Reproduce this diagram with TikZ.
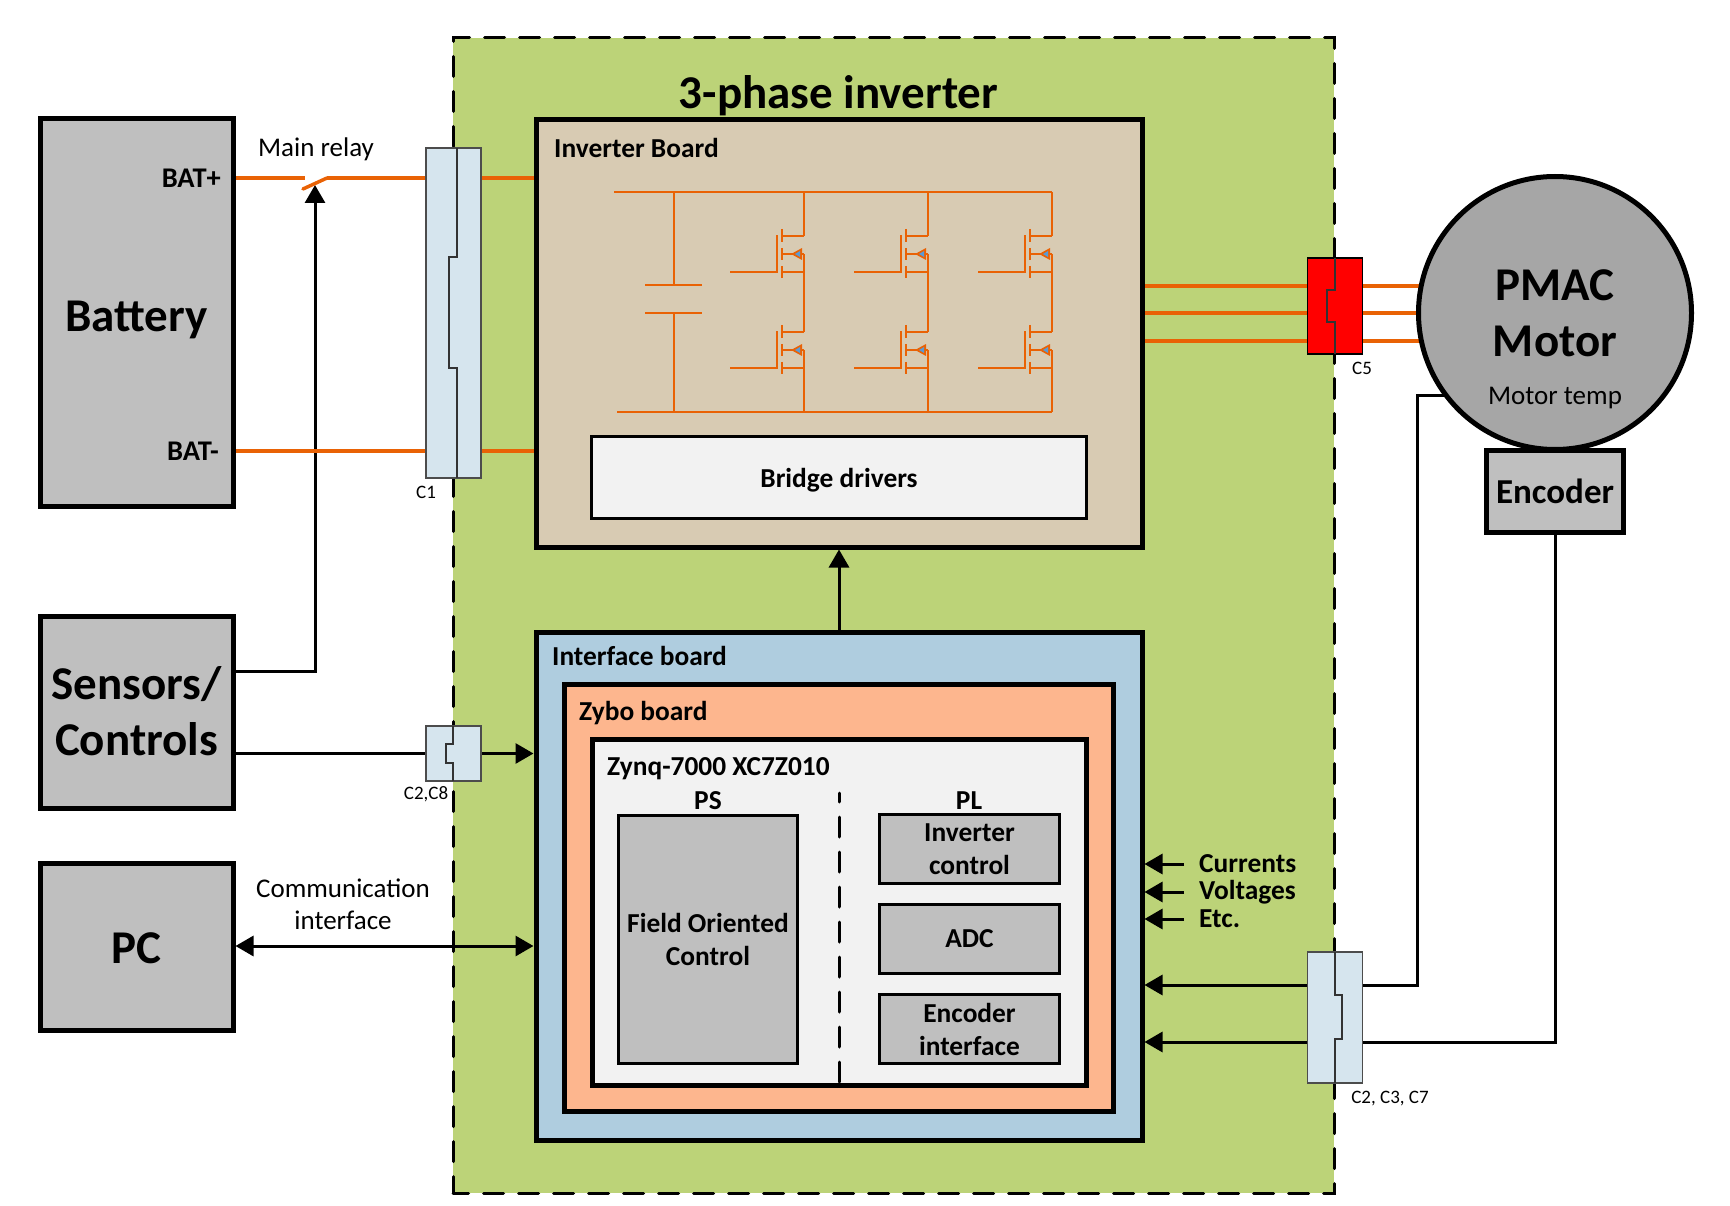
\documentclass[tikz,border=0pt]{standalone}
\usepackage{fontspec}
\setmainfont{Carlito}
\usetikzlibrary{arrows.meta}
\usetikzlibrary{calc}
\usetikzlibrary{positioning}
\pgfdeclarelayer{panel}
\pgfdeclarelayer{wires}
\pgfsetlayers{panel,wires,main}
\definecolor{panelgreen}{HTML}{BCD378}
\definecolor{beigeboard}{HTML}{D8CBB3}
\definecolor{blueboard}{HTML}{AFCDDF}
\definecolor{zyboorange}{HTML}{FDB68E}
\definecolor{lightbox}{HTML}{F2F2F2}
\definecolor{greybox}{HTML}{BFBFBF}
\definecolor{motorgrey}{HTML}{A6A6A6}
\definecolor{plugblue}{HTML}{D6E5EE}
\definecolor{powerorange}{HTML}{E96205}
\definecolor{diodeblue}{HTML}{5B9BD5}

\begin{document}
\begin{tikzpicture}[x=1pt,y=-1pt,
        board/.style={draw, line width=5pt, inner sep=0pt, align=center},
        block/.style={draw, line width=3pt, inner sep=0pt, align=center, fill=greybox, minimum width=179.5pt, font=\bfseries\fontsize{27.4}{33}\selectfont},
        plug/.style={draw=black!70, line width=1.5pt, fill=plugblue, minimum width=55pt, inner sep=0pt},
        seam/.style={draw=black!80, line width=1.2pt},
        bigtext/.style={font=\bfseries\fontsize{47}{56}\selectfont, align=center},
        boldtext/.style={font=\bfseries\fontsize{27.4}{33}\selectfont, align=center},
        plaintext/.style={font=\fontsize{27}{32}\selectfont, align=center},
        smalltext/.style={font=\fontsize{19}{22}\selectfont},
        power/.style={draw=powerorange, line width=3.5pt},
        circuit/.style={draw=powerorange, line width=2.8pt},
        wire/.style={draw, line width=3pt},
        flow/.style={wire, -{Triangle[length=18pt,width=20pt]}},
        flowboth/.style={wire, {Triangle[length=18pt,width=20pt]}-{Triangle[length=18pt,width=20pt]}}]
        \useasboundingbox (0,0) rectangle (1730,1206);

        \begin{pgfonlayer}{panel}
        \node[draw, fill=panelgreen, line width=3pt, line cap=round, dash pattern=on 20pt off 15pt, dash phase=4.5pt, minimum width=881pt, minimum height=1155pt] (panel) at (893.5,615.5) {};
        \end{pgfonlayer}

        \node[board, fill=greybox, minimum width=193pt, minimum height=387pt] (battery) at (136.5,312.5) {};
        \node[board, fill=greybox, minimum width=193pt, minimum height=192pt, below=105pt of battery] (sensors) {};
        \node[board, fill=greybox, minimum width=193pt, minimum height=167pt, below=50pt of sensors] (pc) {};
        \node[bigtext, yshift=-7.5pt] (battery-text) at (battery) {Battery};
        \node[bigtext, yshift=1pt] (sensors-text) at (sensors) {Sensors/\\Controls};
        \node[bigtext, yshift=-2pt] (pc-text) at (pc) {PC};

        \node[board, fill=beigeboard, minimum width=606pt, minimum height=427pt] (inverter) at (839,333.5) {};
        \node[board, fill=blueboard, minimum width=606pt, minimum height=508pt, below=80pt of inverter] (interface) {};
        \node[board, fill=zyboorange, minimum width=549pt, minimum height=427pt, below=52pt of interface.north] (zybo) {};
        \node[board, fill=lightbox, minimum width=494pt, minimum height=346pt, below=55pt of zybo.north] (zynq) {};
        \node[block, fill=lightbox, minimum width=495pt, minimum height=82pt] (drivers) at (839,477.5) {};
        \node[boldtext] (drivers-text) at (839,480) {Bridge drivers};
        \node[block, minimum height=248pt] (foc) at (708,939) {Field Oriented\\Control};
        \node[block, minimum height=69pt, right=79pt of foc] (adc) {ADC};
        \node[block, minimum height=69pt, above=18pt of adc] (pl-inverter) {Inverter\\control};
        \node[block, minimum height=69pt, below=18pt of adc] (pl-encoder) {Encoder\\interface};

        \node[font=\bfseries\fontsize{47}{56}\selectfont] (title) at (838.5,96) {3-phase inverter};
        \node[boldtext, anchor=west, inner sep=0pt] (inverter-text) at (554,148) {Inverter Board};
        \node[boldtext, anchor=west, inner sep=0pt] (interface-text) at (552,656) {Interface board};
        \node[boldtext, anchor=west, inner sep=0pt] (zybo-text) at (579,713) {Zybo board};
        \node[boldtext, anchor=west, inner sep=0pt] (zynq-text) at (607,769) {Zynq-7000 XC7Z010};
        \node[boldtext] (ps-text) at (708,801) {PS};
        \node[boldtext] (pl-text) at (969,801) {PL};
        \node[font=\bfseries\fontsize{28.5}{33}\selectfont, anchor=east, inner sep=0pt] (bat-plus) at (221,178) {BAT+};
        \node[font=\bfseries\fontsize{28.5}{33}\selectfont, anchor=east, inner sep=0pt] (bat-minus) at (219,451) {BAT-};
        \node[boldtext, anchor=west, inner sep=0pt] (currents) at (1199,864) {Currents};
        \node[boldtext, anchor=west, inner sep=0pt] (voltages) at (1199,892) {Voltages};
        \node[boldtext, anchor=west, inner sep=0pt] (etc) at (1199,919) {Etc.};
        \node[plaintext] (relay-text) at (316,149) {Main relay};
        \node[plaintext] (comm-text) at (343,904) {Communication\\interface};

        \node[board, circle, fill=motorgrey, minimum size=273pt] (motor) at (1555,313) {};
        \node[board, fill=greybox, minimum width=137pt, minimum height=82pt, below=-4pt of motor] (encoder) {};
        \node[bigtext] (motor-text) at (1555,313) {PMAC\\Motor};
        \node[plaintext] (temp-text) at (1555,398) {Motor temp};
        \node[font=\bfseries\fontsize{35}{40}\selectfont] (encoder-text) at (encoder) {Encoder};

        \node[plug, minimum height=330pt] (c1) at (453.5,313) {};
        \node[plug, minimum height=55pt] (c2c8) at (453.5,753.5) {};
        \node[plug, fill=red, draw=black, minimum height=96pt] (c5) at (1335,306) {};
        \node[plug, minimum height=131pt] (c2c3c7) at (1335,1017.5) {};
        \draw[seam] (457,148) |- (449,257) |- (457,368) -- (457,478);
        \draw[seam] (453,726) |- (446,744) |- (453,763) -- (453,781);
        \draw[seam] (1335,258) |- (1327,290) |- (1335,322) -- (1335,354);
        \draw[seam] (1335,952) |- (1342,995) |- (1335,1039) -- (1335,1083);
        \node[smalltext] (c1-text) at (426,492) {C1};
        \node[smalltext] (c2c8-text) at (426,794) {C2,C8};
        \node[smalltext] (c5-text) at (1362,368) {C5};
        \node[smalltext] (c2c3c7-text) at (1390,1099) {C2, C3, C7};

        \coordinate (relay-in) at (305,178);
        \coordinate (relay-pivot) at (327,178);
        \coordinate (relay-arm) at (303,189);
        \coordinate (relay-coil) at (315,185);
        \coordinate (temp-top) at (1417,395);
        \coordinate (temp-bottom) at (1417,985);
        \coordinate (split-top) at (839,793);
        \coordinate (split-bottom) at (839,1082);

        \begin{pgfonlayer}{wires}
        \draw[flow] (sensors.east |- 0,671) -| (relay-coil);
        \path[power] (battery.east |- relay-in) edge (relay-in);
        \path[power] (relay-pivot) edge (inverter.west |- relay-pivot);
        \draw[power, line cap=round] (relay-pivot) -- (relay-arm);
        \path[power] (battery.east |- 0,451) edge (inverter.west |- 0,451);
        \foreach \y in {286,313,341}
            \path[power] (inverter.east |- 0,\y) edge (motor.center |- 0,\y);
        \draw[flow] (sensors.east |- c2c8) -- (interface.west |- c2c8);
        \draw[flowboth] (pc.east |- 0,946) -- (interface.west |- 0,946);
        \draw[flow] (interface.north) -- (inverter.south);
        \draw[flow] (motor.center |- temp-top) -- (temp-top) -- (temp-bottom) -- (interface.east |- temp-bottom);
        \draw[flow] (encoder.south) |- (interface.east |- 0,1042);
        \draw[flow] (currents.west) ++(-15,0) -- (interface.east |- currents);
        \draw[flow] (voltages.west) ++(-15,0) -- (interface.east |- voltages);
        \draw[flow] (etc.west) ++(-15,0) -- (interface.east |- etc);
        \end{pgfonlayer}

        \draw[line width=3pt, line cap=round, dash pattern=on 20pt off 15pt] (split-bottom) -- (split-top);

        \draw[circuit] (614,192) -- (1052,192);
        \draw[circuit] (617,412) -- (1052,412);
        \draw[circuit] (674,192) -- (674,285);
        \draw[circuit] (645,285) -- (702,285);
        \draw[circuit] (645,313) -- (702,313);
        \draw[circuit] (674,313) -- (674,412);
        \foreach \x in {804,928,1052} {
            \draw[circuit] (\x,192) -- (\x,236);
            \draw[circuit] (\x,254) -- (\x,332);
            \draw[circuit] (\x,350) -- (\x,412);
            \foreach \y in {0,96} {
                \draw[circuit] ({\x-74},{272+\y}) -- ({\x-27},{272+\y}) -- ({\x-27},{235+\y});
                \draw[circuit] ({\x-22},{229+\y}) -- ({\x-22},{242+\y});
                \draw[circuit] ({\x-22},{248+\y}) -- ({\x-22},{260+\y});
                \draw[circuit] ({\x-22},{266+\y}) -- ({\x-22},{278+\y});
                \draw[circuit] ({\x-22},{236+\y}) -- (\x,{236+\y});
                \draw[circuit] ({\x-22},{272+\y}) -- (\x,{272+\y});
                \draw[circuit] ({\x-22},{254+\y}) -- (\x,{254+\y});
                \fill[powerorange] ({\x-13},{254+\y}) -- ({\x-2},{248+\y}) -- ({\x-2},{260+\y}) -- cycle;
                \fill[diodeblue] ({\x-9},{254+\y}) -- ({\x-4},{251+\y}) -- ({\x-4},{257+\y}) -- cycle;
            }
        }
    \end{tikzpicture}
\end{document}
